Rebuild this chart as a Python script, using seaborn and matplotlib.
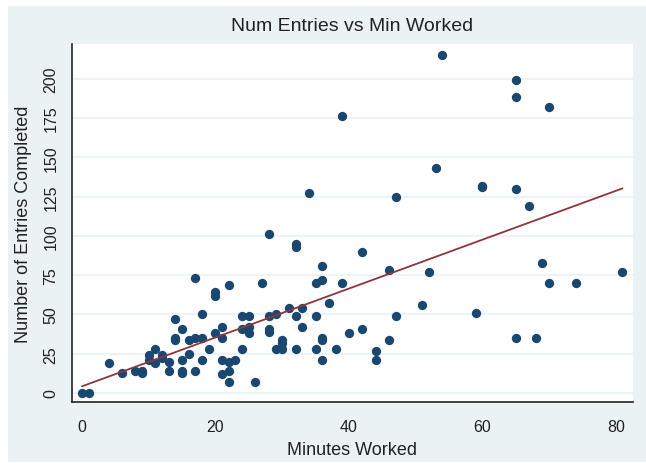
import numpy as np
import pandas as pd
import matplotlib
matplotlib.use("Agg")
import matplotlib.pyplot as plt
from matplotlib.patches import Rectangle
import seaborn as sns

# minutes worked vs entries completed
minutes = [0, 1, 4, 6, 8, 9, 9, 10, 10, 11, 11, 12, 12, 13, 13, 14, 14, 14,
           15, 15, 15, 15, 16, 16, 17, 17, 17, 18, 18, 18, 19, 20, 20, 20,
           21, 21, 21, 21, 22, 22, 22, 22, 23, 24, 24, 24, 25, 25, 25, 26,
           27, 28, 28, 28, 28, 29, 29, 30, 30, 30, 31, 32, 32, 32, 32, 33,
           33, 34, 35, 35, 35, 36, 36, 36, 36, 36, 37, 38, 39, 39, 40, 42,
           42, 44, 44, 46, 46, 47, 47, 51, 52, 53, 54, 59, 60, 60, 65, 65,
           65, 65, 67, 68, 69, 70, 70, 74, 81]
entries = [0, 0, 19, 13, 14, 13, 14, 24, 21, 28, 19, 24, 22, 20, 14, 47, 35, 34,
           41, 21, 14, 13, 25, 34, 73, 35, 14, 50, 35, 21, 28, 64, 62, 38,
           42, 35, 21, 12, 69, 20, 14, 7, 21, 49, 41, 28, 49, 42, 38, 7,
           70, 101, 49, 41, 39, 50, 28, 34, 32, 28, 54, 95, 93, 49, 28, 54,
           42, 127, 70, 49, 28, 81, 72, 35, 34, 21, 57, 28, 176, 70, 38, 90,
           41, 27, 21, 78, 34, 125, 49, 56, 77, 143, 215, 51, 132, 131, 199, 188,
           130, 35, 119, 35, 83, 182, 70, 70, 77]

x_ticks = [0, 20, 40, 60, 80]
y_ticks = [0, 25, 50, 75, 100, 125, 150, 175, 200]

df = pd.DataFrame({"Minutes Worked": minutes, "Entries": entries})

bg = "#EAF2F3"
navy = "#1A476F"
maroon = "#90353B"
ink = "#222222"

sns.set_style("white")
plt.rcParams["font.family"] = ["Liberation Sans", "DejaVu Sans"]

fig = plt.figure(figsize=(6.46, 4.64), dpi=100, facecolor="white")
# screenshot look: light graph region with a thin white margin left/top
fig.add_artist(Rectangle((8 / 646, 1 / 464), 1, 456 / 464, transform=fig.transFigure,
                         facecolor=bg, edgecolor="none", zorder=-10))

ax = fig.add_axes([0.111, 0.1315, 0.869, 0.7715])
ax.set_facecolor("white")

sns.regplot(data=df, x="Minutes Worked", y="Entries", ax=ax, ci=None,
            scatter_kws={"s": 45, "color": navy, "alpha": 1, "linewidths": 0, "zorder": 3},
            line_kws={"color": maroon, "lw": 1.3, "zorder": 4})

ax.set_xlim(-1.55, 82.6)
ax.set_ylim(-5.7, 222)
ax.set_xticks(x_ticks)
ax.set_yticks(y_ticks)
ax.yaxis.grid(True, color=bg, lw=1.2, zorder=0)
ax.set_axisbelow(True)

for s in ["top", "right"]:
    ax.spines[s].set_visible(False)
for s in ["left", "bottom"]:
    ax.spines[s].set_color(ink)
    ax.spines[s].set_linewidth(1.2)

ax.tick_params(axis="both", direction="out", length=6, width=1, color=ink,
               labelsize=11.5, labelcolor=ink)
ax.tick_params(axis="x", pad=6)
plt.setp(ax.get_yticklabels(), rotation=90, va="center")

ax.set_title("Num Entries vs Min Worked", fontsize=14, color=ink, pad=10)
ax.set_xlabel("Minutes Worked", fontsize=13, color=ink, labelpad=5)
ax.set_ylabel("Number of Entries Completed", fontsize=13, color=ink, labelpad=8)

fig.savefig("out.png", dpi=100, facecolor="white")
